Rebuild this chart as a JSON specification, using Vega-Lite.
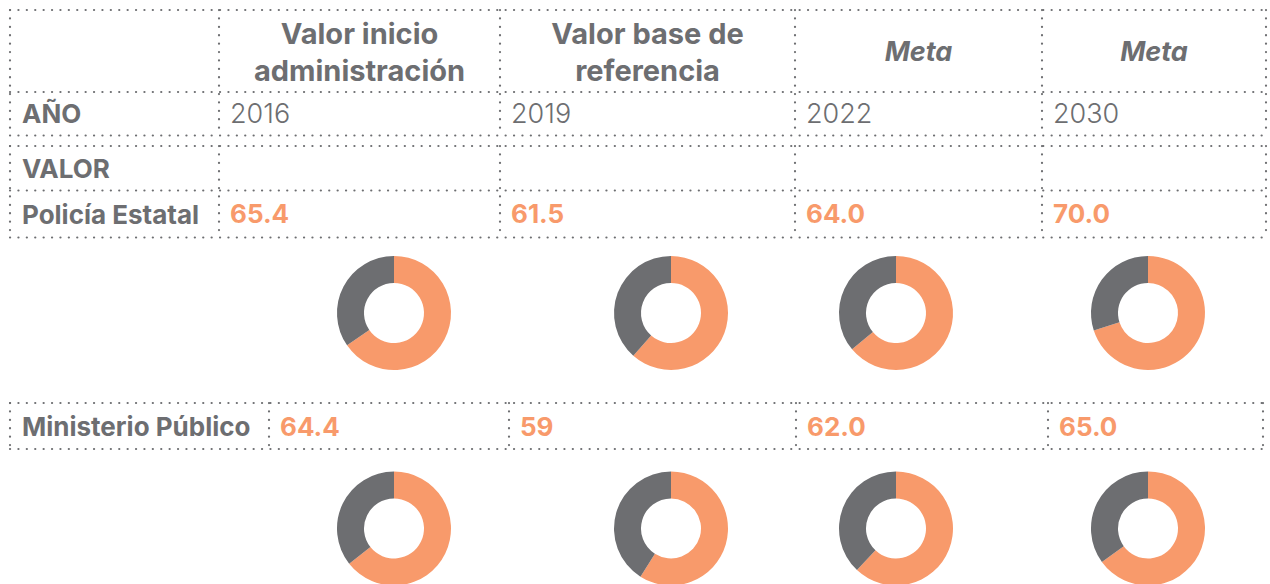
{
  "$schema": "https://vega.github.io/schema/vega-lite/v6.json",
  "width": 1270,
  "height": 584,
  "padding": 0,
  "autosize": {"type": "none"},
  "background": "#ffffff",
  "config": {"view": {"stroke": null}, "axis": {"disable": true}, "font": "Inter"},
  "datasets": {
    "tabla1": [
      {"row": 0, "col": 1, "text": "Valor inicio\nadministración", "tipo": "encabezado"},
      {"row": 0, "col": 2, "text": "Valor base de\nreferencia", "tipo": "encabezado"},
      {"row": 0, "col": 3, "text": "Meta", "tipo": "meta"},
      {"row": 0, "col": 4, "text": "Meta", "tipo": "meta"},
      {"row": 1, "col": 0, "text": "AÑO", "tipo": "etiqueta"},
      {"row": 1, "col": 1, "text": "2016", "tipo": "anio"},
      {"row": 1, "col": 2, "text": "2019", "tipo": "anio"},
      {"row": 1, "col": 3, "text": "2022", "tipo": "anio"},
      {"row": 1, "col": 4, "text": "2030", "tipo": "anio"},
      {"row": 3, "col": 0, "text": "VALOR", "tipo": "etiqueta"},
      {"row": 4, "col": 0, "text": "Policía Estatal", "tipo": "etiqueta"},
      {"row": 4, "col": 1, "text": "65.4", "tipo": "valor"},
      {"row": 4, "col": 2, "text": "61.5", "tipo": "valor"},
      {"row": 4, "col": 3, "text": "64.0", "tipo": "valor"},
      {"row": 4, "col": 4, "text": "70.0", "tipo": "valor"}
    ],
    "tabla2": [
      {"row": 0, "col": 0, "text": "Ministerio Público", "tipo": "etiqueta"},
      {"row": 0, "col": 1, "text": "64.4", "tipo": "valor"},
      {"row": 0, "col": 2, "text": "59", "tipo": "valor"},
      {"row": 0, "col": 3, "text": "62.0", "tipo": "valor"},
      {"row": 0, "col": 4, "text": "65.0", "tipo": "valor"}
    ],
    "h1": [{"r": 0}, {"r": 1}, {"r": 2}, {"r": 3}, {"r": 4}, {"r": 5}],
    "v1": [
      {"c": 0, "r0": 0, "r1": 2}, {"c": 1, "r0": 0, "r1": 2}, {"c": 2, "r0": 0, "r1": 2},
      {"c": 3, "r0": 0, "r1": 2}, {"c": 4, "r0": 0, "r1": 2}, {"c": 5, "r0": 0, "r1": 2},
      {"c": 0, "r0": 3, "r1": 5}, {"c": 1, "r0": 3, "r1": 5}, {"c": 2, "r0": 3, "r1": 5},
      {"c": 3, "r0": 3, "r1": 5}, {"c": 4, "r0": 3, "r1": 5}, {"c": 5, "r0": 3, "r1": 5}
    ],
    "h2": [{"r": 0}, {"r": 1}],
    "v2": [{"c": 0}, {"c": 1}, {"c": 2}, {"c": 3}, {"c": 4}, {"c": 5}],
    "donas": [
      {"entidad": "Policía Estatal", "anio": 2016, "segmento": "valor", "inicio": 0, "fin": 65.4},
      {"entidad": "Policía Estatal", "anio": 2016, "segmento": "resto", "inicio": 65.4, "fin": 100},
      {"entidad": "Policía Estatal", "anio": 2019, "segmento": "valor", "inicio": 0, "fin": 61.5},
      {"entidad": "Policía Estatal", "anio": 2019, "segmento": "resto", "inicio": 61.5, "fin": 100},
      {"entidad": "Policía Estatal", "anio": 2022, "segmento": "valor", "inicio": 0, "fin": 64.0},
      {"entidad": "Policía Estatal", "anio": 2022, "segmento": "resto", "inicio": 64.0, "fin": 100},
      {"entidad": "Policía Estatal", "anio": 2030, "segmento": "valor", "inicio": 0, "fin": 70.0},
      {"entidad": "Policía Estatal", "anio": 2030, "segmento": "resto", "inicio": 70.0, "fin": 100},
      {"entidad": "Ministerio Público", "anio": 2016, "segmento": "valor", "inicio": 0, "fin": 64.4},
      {"entidad": "Ministerio Público", "anio": 2016, "segmento": "resto", "inicio": 64.4, "fin": 100},
      {"entidad": "Ministerio Público", "anio": 2019, "segmento": "valor", "inicio": 0, "fin": 59},
      {"entidad": "Ministerio Público", "anio": 2019, "segmento": "resto", "inicio": 59, "fin": 100},
      {"entidad": "Ministerio Público", "anio": 2022, "segmento": "valor", "inicio": 0, "fin": 62.0},
      {"entidad": "Ministerio Público", "anio": 2022, "segmento": "resto", "inicio": 62.0, "fin": 100},
      {"entidad": "Ministerio Público", "anio": 2030, "segmento": "valor", "inicio": 0, "fin": 65.0},
      {"entidad": "Ministerio Público", "anio": 2030, "segmento": "resto", "inicio": 65.0, "fin": 100}
    ]
  },
  "layer": [
    {
      "layer": [
        {
          "data": {"name": "h1"},
          "mark": {"type": "rule", "color": "#6D6E71", "strokeWidth": 2.2, "strokeDash": [0.1, 8.3], "strokeCap": "round"},
          "encoding": {
            "y": {"field": "r", "type": "quantitative", "scale": {"domain": [0, 1, 2, 3, 4, 5], "range": [10, 92, 135.5, 146, 190.5, 237.5], "zero": false, "nice": false}},
            "x": {"datum": 0, "type": "quantitative", "scale": {"domain": [0, 1, 2, 3, 4, 5], "range": [10, 219, 500, 795, 1042, 1266], "zero": false, "nice": false}},
            "x2": {"datum": 5}
          }
        },
        {
          "data": {"name": "v1"},
          "mark": {"type": "rule", "color": "#6D6E71", "strokeWidth": 2.2, "strokeDash": [0.1, 8.3], "strokeCap": "round"},
          "encoding": {
            "x": {"field": "c", "type": "quantitative"},
            "y": {"field": "r0", "type": "quantitative"},
            "y2": {"field": "r1"}
          }
        },
        {
          "data": {"name": "tabla1"},
          "transform": [
            {"filter": "datum.tipo === 'encabezado'"},
            {"calculate": "datum.col + 0.5", "as": "xc"},
            {"calculate": "datum.row + 0.5", "as": "yc"}
          ],
          "mark": {"type": "text", "align": "center", "baseline": "middle", "fontSize": 29, "fontWeight": "bold", "color": "#6D6E71", "lineBreak": "\n", "lineHeight": 37, "dy": -16},
          "encoding": {
            "x": {"field": "xc", "type": "quantitative"},
            "y": {"field": "yc", "type": "quantitative"},
            "text": {"field": "text", "type": "nominal"}
          }
        },
        {
          "data": {"name": "tabla1"},
          "transform": [
            {"filter": "datum.tipo === 'meta'"},
            {"calculate": "datum.col + 0.5", "as": "xc"},
            {"calculate": "datum.row + 0.5", "as": "yc"}
          ],
          "mark": {"type": "text", "align": "center", "baseline": "middle", "fontSize": 27, "fontWeight": "bold", "fontStyle": "italic", "color": "#6D6E71", "dy": 2},
          "encoding": {
            "x": {"field": "xc", "type": "quantitative"},
            "y": {"field": "yc", "type": "quantitative"},
            "text": {"field": "text", "type": "nominal"}
          }
        },
        {
          "data": {"name": "tabla1"},
          "transform": [
            {"filter": "datum.tipo === 'etiqueta'"},
            {"calculate": "datum.row + 0.5", "as": "yc"}
          ],
          "mark": {"type": "text", "align": "left", "baseline": "middle", "fontSize": 26, "fontWeight": "bold", "color": "#6D6E71", "dx": 12, "dy": 1.5},
          "encoding": {
            "x": {"field": "col", "type": "quantitative"},
            "y": {"field": "yc", "type": "quantitative"},
            "text": {"field": "text", "type": "nominal"}
          }
        },
        {
          "data": {"name": "tabla1"},
          "transform": [
            {"filter": "datum.tipo === 'anio'"},
            {"calculate": "datum.row + 0.5", "as": "yc"}
          ],
          "mark": {"type": "text", "align": "left", "baseline": "middle", "fontSize": 27, "fontWeight": 300, "color": "#6D6E71", "dx": 11, "dy": 1.5},
          "encoding": {
            "x": {"field": "col", "type": "quantitative"},
            "y": {"field": "yc", "type": "quantitative"},
            "text": {"field": "text", "type": "nominal"}
          }
        },
        {
          "data": {"name": "tabla1"},
          "transform": [
            {"filter": "datum.tipo === 'valor'"},
            {"calculate": "datum.row + 0.5", "as": "yc"}
          ],
          "mark": {"type": "text", "align": "left", "baseline": "middle", "fontSize": 26, "fontWeight": "bold", "color": "#F89A6B", "dx": 11, "dy": 1},
          "encoding": {
            "x": {"field": "col", "type": "quantitative"},
            "y": {"field": "yc", "type": "quantitative"},
            "text": {"field": "text", "type": "nominal"}
          }
        }
      ]
    },
    {
      "layer": [
        {
          "data": {"name": "h2"},
          "mark": {"type": "rule", "color": "#6D6E71", "strokeWidth": 2.2, "strokeDash": [0.1, 8.3], "strokeCap": "round"},
          "encoding": {
            "y": {"field": "r", "type": "quantitative", "scale": {"domain": [0, 1], "range": [403, 449], "zero": false, "nice": false}},
            "x": {"datum": 0, "type": "quantitative", "scale": {"domain": [0, 1, 2, 3, 4, 5], "range": [10, 269, 509, 796, 1048, 1263], "zero": false, "nice": false}},
            "x2": {"datum": 5}
          }
        },
        {
          "data": {"name": "v2"},
          "mark": {"type": "rule", "color": "#6D6E71", "strokeWidth": 2.2, "strokeDash": [0.1, 8.3], "strokeCap": "round"},
          "encoding": {
            "x": {"field": "c", "type": "quantitative"},
            "y": {"datum": 0, "type": "quantitative"},
            "y2": {"datum": 1}
          }
        },
        {
          "data": {"name": "tabla2"},
          "transform": [
            {"filter": "datum.tipo === 'etiqueta'"},
            {"calculate": "datum.row + 0.5", "as": "yc"}
          ],
          "mark": {"type": "text", "align": "left", "baseline": "middle", "fontSize": 26, "fontWeight": "bold", "color": "#6D6E71", "dx": 12, "dy": 1.5},
          "encoding": {
            "x": {"field": "col", "type": "quantitative"},
            "y": {"field": "yc", "type": "quantitative"},
            "text": {"field": "text", "type": "nominal"}
          }
        },
        {
          "data": {"name": "tabla2"},
          "transform": [
            {"filter": "datum.tipo === 'valor'"},
            {"calculate": "datum.row + 0.5", "as": "yc"}
          ],
          "mark": {"type": "text", "align": "left", "baseline": "middle", "fontSize": 26, "fontWeight": "bold", "color": "#F89A6B", "dx": 11, "dy": 1.5},
          "encoding": {
            "x": {"field": "col", "type": "quantitative"},
            "y": {"field": "yc", "type": "quantitative"},
            "text": {"field": "text", "type": "nominal"}
          }
        }
      ]
    },
    {
      "data": {"name": "donas"},
      "mark": {"type": "arc", "outerRadius": 57, "innerRadius": 30},
      "encoding": {
        "x": {"field": "anio", "type": "quantitative", "stack": null, "scale": {"domain": [2016, 2019, 2022, 2030], "range": [394, 671, 896, 1148], "zero": false, "nice": false}},
        "y": {"field": "entidad", "type": "nominal", "scale": {"type": "point", "domain": ["Policía Estatal", "Ministerio Público"], "range": [313, 528.5], "padding": 0}},
        "theta": {"field": "inicio", "type": "quantitative", "stack": null, "scale": {"domain": [0, 100], "range": [0, 6.283185307179586], "zero": false}},
        "theta2": {"field": "fin"},
        "color": {"field": "segmento", "type": "nominal", "scale": {"domain": ["valor", "resto"], "range": ["#F89A6B", "#6D6E71"]}, "legend": null}
      }
    }
  ],
  "resolve": {"scale": {"x": "independent", "y": "independent"}}
}
